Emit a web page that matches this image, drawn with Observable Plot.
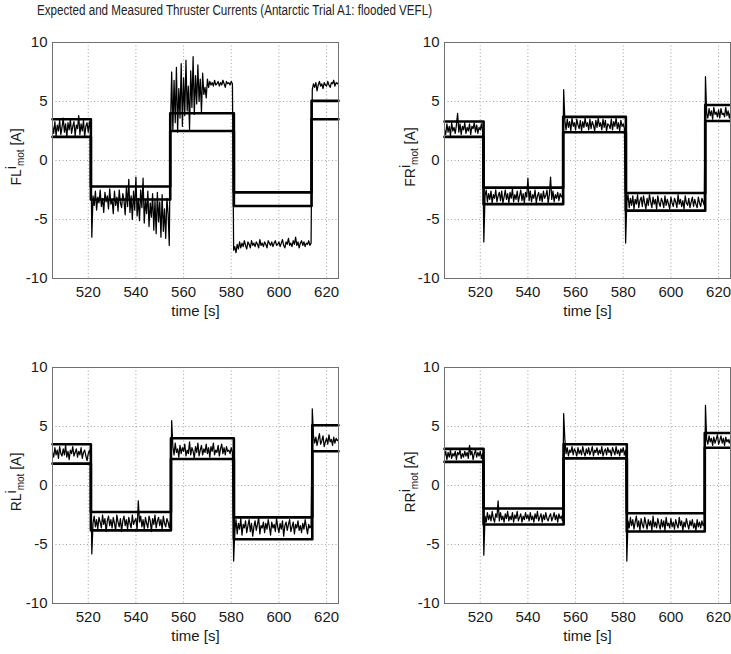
<!DOCTYPE html>
<html><head><meta charset="utf-8">
<script src="https://cdn.jsdelivr.net/npm/d3@7"></script>
<script src="https://cdn.jsdelivr.net/npm/@observablehq/plot@0.6"></script>
<style>
html,body{margin:0;padding:0;background:#fff;overflow:hidden;}
#fig{position:relative;width:731px;height:654px;font-family:"Liberation Sans",Arial,sans-serif;}
#title{position:absolute;left:37px;top:1px;font-family:"Liberation Sans",Arial,sans-serif;font-size:14px;line-height:18px;color:#222;white-space:nowrap;transform:scaleX(0.83);transform-origin:0 0;}
.panel{position:absolute;}
</style></head><body>
<div id="fig"><div id="title">Expected and Measured Thruster Currents (Antarctic Trial A1: flooded VEFL)</div></div>
<script>
// ---- data ----
const panelNames = ["FL", "FR", "RL", "RR"];
const xTicks = [520, 540, 560, 580, 600, 620];
const yTicks = [-10, -5, 0, 5, 10];
const timeLabel = "time [s]";
const sampleStart = 505;   // s, first measured sample
const sampleStep = 0.5;    // s, measured sampling interval

// expected current envelope: switching times and upper / lower bounds per segment
const flSwitch = [521.1, 554.4, 581.1, 613.7];
const flUpper = [3.5, -2.2, 4.0, -2.7, 5.05];
const flLower = [2.0, -3.3, 2.5, -3.85, 3.5];
const frSwitch = [521.4, 554.8, 581.1, 614.4];
const frUpper = [3.3, -2.3, 3.7, -2.75, 4.7];
const frLower = [2.0, -3.7, 2.4, -4.25, 3.35];
const rlSwitch = [521.1, 554.7, 581.1, 614.0];
const rlUpper = [3.5, -2.25, 4.0, -2.7, 5.1];
const rlLower = [1.85, -3.8, 2.25, -4.55, 2.9];
const rrSwitch = [521.4, 555.0, 581.5, 614.2];
const rrUpper = [3.1, -1.95, 3.5, -2.35, 4.45];
const rrLower = [2.0, -3.3, 2.3, -3.9, 3.2];

// measured motor currents [A], one sample every 0.5 s from 505 s to 625 s
const flMeasured = [
2.9, 2.3, 3.3, 2.1, 3.0, 2.5, 3.4, 2.2, 2.8, 3.6,
2.4, 3.1, 2.0, 3.2, 2.6, 3.5, 2.3, 2.9, 3.3, 2.1,
3.0, 2.7, 3.8, 2.2, 3.1, 2.5, 3.4, 2.0, 2.9, 3.2,
2.4, 3.3, 2.6, -6.5, -3.0, -3.8, -2.6, -4.2, -3.1, -3.6,
-2.5, -3.9, -3.2, -4.4, -2.7, -3.5, -3.0, -4.1, -2.4, -3.7,
-3.3, -4.5, -2.6, -3.8, -3.1, -4.3, -2.5, -3.6, -4.0, -2.8,
-3.4, -4.6, -2.3, -3.9, -1.6, -4.4, -3.0, -5.0, -2.6, -4.2,
-1.4, -4.7, -3.2, -5.1, -2.5, -4.0, -1.5, -5.3, -3.3, -4.5,
-2.6, -5.6, -3.6, -4.8, -2.8, -5.9, -3.4, -6.2, -2.7, -5.2,
-3.5, -6.5, -2.9, -6.0, -4.1, -6.6, -3.2, -4.5, -7.2, 2.8,
7.5, 2.5, 6.8, 3.2, 7.9, 2.4, 6.1, 3.6, 8.2, 2.9,
7.0, 3.8, 8.5, 4.2, 6.3, 2.6, 7.6, 4.5, 8.8, 3.9,
7.2, 4.8, 8.1, 5.0, 6.9, 4.1, 7.4, 5.6, 6.2, 5.3,
6.9, 6.2, 6.7, 6.4, 6.6, 6.3, 6.8, 6.4, 6.5, 6.7,
6.3, 6.6, 6.4, 6.8, 6.5, 6.2, 6.7, 6.5, 6.6, 6.4,
6.7, 6.5, -7.6, -7.3, -7.8, -7.1, -7.5, -6.9, -7.4, -7.0,
-7.3, -6.8, -7.2, -7.5, -6.9, -7.1, -7.4, -6.8, -7.2, -7.0,
-7.3, -6.9, -7.1, -7.4, -6.7, -7.2, -7.0, -7.3, -6.9, -7.1,
-7.4, -6.8, -7.0, -7.2, -6.9, -7.3, -7.0, -6.8, -7.2, -7.1,
-6.9, -7.3, -7.0, -6.7, -7.2, -7.4, -6.9, -7.1, -6.6, -7.2,
-7.0, -7.3, -6.8, -7.1, -6.5, -7.2, -6.9, -7.4, -7.0, -6.8,
-7.2, -6.9, -7.3, -7.0, -7.1, -6.8, -7.2, -7.0, 6.0, 6.5,
6.2, 6.6, 5.9, 6.4, 6.7, 6.3, 6.5, 6.1, 6.6, 6.4,
6.3, 6.7, 6.4, 6.2, 6.6, 6.5, 6.8, 6.3, 6.6, 6.5,
6.6];
const frMeasured = [
2.6, 2.2, 3.1, 2.4, 2.9, 2.1, 3.2, 2.5, 2.8, 2.3,
3.0, 4.0, 2.4, 3.1, 2.2, 2.9, 2.6, 3.2, 2.3, 2.8,
2.5, 3.1, 2.2, 2.9, 2.7, 3.2, 2.4, 3.0, 2.3, 2.8,
2.6, 3.1, 2.4, -6.9, -3.0, -2.5, -3.5, -2.8, -3.3, -2.6,
-3.6, -2.9, -3.2, -2.5, -3.5, -3.0, -2.7, -3.4, -2.6, -3.6,
-3.1, -2.5, -3.3, -2.8, -3.6, -2.7, -3.2, -2.4, -3.5, -2.9,
-3.3, -2.6, -3.5, -3.0, -2.5, -3.4, -2.8, -3.6, -2.7, -3.1,
-1.5, -3.4, -2.6, -3.5, -2.9, -3.2, -2.5, -3.6, -3.0, -2.7,
-3.4, -2.8, -3.5, -2.6, -3.2, -3.0, -2.5, -3.6, -2.9, -1.4,
-3.3, -2.6, -3.5, -2.9, -3.2, -2.7, -3.4, -2.8, -3.1, -2.9,
6.0, 3.4, 2.6, 3.5, 2.8, 3.3, 2.5, 3.6, 2.9, 3.2,
2.6, 3.5, 3.0, 2.7, 3.4, 2.5, 3.3, 2.8, 3.6, 2.9,
3.2, 2.6, 3.5, 2.7, 3.3, 3.0, 2.5, 3.4, 2.8, 3.6,
2.9, 3.2, 2.6, 3.5, 2.8, 3.4, 2.5, 3.1, 3.0, 2.7,
3.5, 2.6, 3.3, 2.9, 3.6, 2.7, 3.2, 2.5, 3.4, 2.9,
3.1, 2.7, -7.0, -3.5, -2.9, -4.0, -3.2, -3.8, -3.0, -4.1,
-3.3, -3.7, -2.9, -4.0, -3.4, -3.1, -3.9, -3.0, -3.6, -4.1,
-3.2, -3.8, -2.9, -3.5, -4.0, -3.1, -3.7, -3.3, -4.1, -3.0,
-3.6, -3.9, -3.2, -3.5, -4.0, -3.0, -3.8, -3.3, -3.7, -4.1,
-3.1, -3.6, -3.9, -3.2, -3.5, -4.0, -2.9, -3.7, -3.3, -3.9,
-3.4, -4.1, -3.0, -3.6, -3.8, -3.2, -4.0, -3.5, -3.1, -3.9,
-3.3, -3.7, -4.0, -3.1, -3.6, -3.9, -3.2, -3.5, -3.8, 7.1,
4.0, 3.6, 4.4, 3.8, 4.2, 3.5, 4.5, 3.9, 4.1, 3.7,
4.3, 3.6, 4.4, 3.9, 4.0, 3.7, 4.5, 3.8, 4.2, 3.6,
4.1];
const rlMeasured = [
2.8, 2.4, 3.2, 2.6, 3.0, 2.3, 3.3, 2.7, 2.5, 3.1,
2.6, 3.4, 2.4, 2.9, 2.2, 3.0, 2.7, 3.3, 2.5, 2.8,
3.1, 2.4, 2.9, 2.6, 3.2, 2.3, 2.8, 3.0, 2.5, 2.1,
2.7, 3.0, 2.4, -5.8, -3.2, -2.6, -3.5, -2.9, -3.7, -2.7,
-3.1, -3.6, -2.5, -3.3, -2.8, -3.9, -3.0, -2.6, -3.4, -2.9,
-3.6, -2.7, -3.2, -3.8, -2.5, -3.1, -3.5, -2.8, -3.9, -3.0,
-2.6, -3.4, -2.9, -3.7, -2.7, -3.2, -3.6, -2.5, -3.3, -3.0,
-2.8, -3.8, -1.3, -3.1, -2.6, -3.5, -2.9, -3.7, -2.7, -3.2,
-3.6, -2.6, -3.0, -3.9, -2.8, -3.3, -2.5, -3.6, -3.0, -2.7,
-3.4, -2.9, -3.7, -2.6, -3.2, -3.5, -2.8, -3.1, -3.6, -2.9,
5.5, 3.3, 2.6, 3.6, 2.8, 3.1, 2.4, 3.4, 2.7, 3.2,
2.9, 3.5, 2.5, 3.0, 2.7, 3.7, 2.6, 3.2, 2.9, 2.3,
3.3, 2.8, 3.6, 2.5, 3.0, 3.4, 2.6, 3.1, 2.8, 3.5,
2.7, 3.2, 2.4, 3.3, 2.9, 3.6, 2.6, 3.0, 2.8, 3.4,
2.5, 3.1, 3.5, 2.7, 3.2, 2.6, 3.3, 2.9, 3.0, 2.7,
3.2, 2.8, -6.4, -3.8, -2.9, -4.1, -3.2, -3.7, -2.8, -4.2,
-3.3, -3.6, -3.0, -4.0, -3.4, -2.9, -3.9, -3.2, -4.3, -3.5,
-3.0, -3.8, -3.3, -2.7, -4.1, -3.4, -3.6, -3.1, -4.0, -3.2,
-3.7, -2.9, -3.5, -4.2, -3.1, -3.6, -3.3, -3.9, -2.8, -3.5,
-4.0, -3.2, -3.7, -3.0, -4.3, -3.4, -3.1, -3.8, -3.3, -2.9,
-3.9, -3.5, -3.1, -4.1, -3.3, -3.6, -3.0, -3.8, -3.4, -4.0,
-3.2, -3.7, -2.9, -3.5, -4.1, -3.3, -3.6, -3.4, 6.5, 4.2,
3.6, 4.1, 3.4, 3.9, 4.4, 3.5, 3.8, 4.2, 3.3, 3.7,
4.0, 3.5, 4.3, 3.7, 3.9, 3.4, 4.1, 3.6, 4.0, 3.8,
3.9];
const rrMeasured = [
2.5, 2.9, 2.2, 2.8, 2.4, 3.0, 2.3, 2.7, 2.5, 2.9,
2.2, 2.8, 2.6, 3.0, 2.3, 2.7, 2.4, 2.9, 2.5, 2.8,
2.3, 3.4, 2.6, 2.9, 2.2, 2.7, 3.0, 2.4, 2.8, 2.5,
2.9, 2.3, 2.7, -5.9, -2.6, -3.1, -2.3, -2.9, -2.5, -3.0,
-2.2, -2.8, -3.1, -2.4, -2.7, -1.3, -3.0, -2.3, -2.9, -2.6,
-3.1, -2.4, -2.8, -2.2, -3.0, -2.6, -2.9, -2.3, -3.1, -2.5,
-2.8, -2.2, -3.0, -2.7, -2.4, -3.1, -2.6, -2.9, -2.3, -2.8,
-2.5, -3.0, -2.3, -2.9, -2.6, -3.1, -2.4, -2.8, -2.2, -3.0,
-2.7, -2.4, -3.1, -2.5, -2.9, -2.3, -2.8, -3.0, -2.6, -2.4,
-3.0, -2.7, -2.3, -2.9, -2.5, -3.1, -2.4, -2.8, -2.6, -3.0,
6.1, 3.9, 2.7, 3.2, 2.5, 3.0, 2.8, 3.3, 2.6, 3.1,
2.9, 2.5, 3.2, 2.7, 3.0, 2.6, 3.3, 2.8, 2.5, 3.1,
2.7, 3.2, 2.6, 2.9, 3.3, 2.5, 3.0, 2.8, 3.2, 2.6,
3.0, 2.7, 3.3, 2.5, 2.9, 3.1, 2.6, 3.2, 2.8, 3.0,
2.5, 3.2, 2.9, 2.6, 3.3, 2.7, 3.0, 2.5, 3.1, 2.8,
3.2, 2.6, 3.0, -6.4, -3.0, -3.6, -2.7, -3.4, -2.9, -3.7,
-3.1, -2.6, -3.5, -3.0, -3.8, -2.8, -3.3, -3.6, -2.7, -3.2,
-3.7, -2.9, -3.4, -3.0, -3.8, -2.6, -3.5, -3.1, -3.6, -2.8,
-3.3, -3.7, -2.9, -3.5, -3.0, -3.8, -2.7, -3.4, -3.2, -3.6,
-2.8, -3.5, -3.1, -3.7, -2.9, -3.3, -3.6, -2.7, -3.4, -3.0,
-3.8, -3.1, -3.5, -2.8, -3.3, -3.7, -3.0, -3.4, -2.9, -3.6,
-3.2, -3.8, -2.9, -3.5, -3.1, -3.6, -3.0, -3.4, -3.2, 6.8,
3.9, 3.5, 4.2, 3.7, 4.0, 3.4, 4.1, 3.6, 3.9, 4.3,
3.5, 3.8, 4.2, 3.6, 4.0, 3.4, 4.1, 3.7, 3.9, 3.6,
4.0];

// ---- drawing ----
const xDomain = [505, 625];
const fontStack = "Liberation Sans, Arial, Helvetica, sans-serif";
const plainNumber = d => String(d);

function stepPoints(switches, levels) {
  const pts = [xDomain[0], ...switches].map((t, i) => ({t, v: levels[i]}));
  pts.push({t: xDomain[1], v: levels[levels.length - 1]});
  return pts;
}

function makePanel(name, measured, switches, upper, lower, left, top, width, marginRight, labelX) {
  if (measured.length !== 241) throw new Error(name + " length " + measured.length);
  const meas = measured.map((v, i) => ({t: sampleStart + i * sampleStep, v}));
  const svg = Plot.plot({
    width, height: 300,
    marginLeft: 52, marginRight, marginTop: 12, marginBottom: 52,
    style: {fontFamily: fontStack, fontSize: "15px", color: "#1a1a1a", background: "#fff", overflow: "visible"},
    x: {domain: xDomain, label: null},
    y: {domain: [-10, 10], label: null},
    marks: [
      Plot.gridX(xTicks, {stroke: "#8a8a8a", strokeOpacity: 1, strokeWidth: 0.8, strokeDasharray: "1,2.5"}),
      Plot.gridY(yTicks, {stroke: "#8a8a8a", strokeOpacity: 1, strokeWidth: 0.8, strokeDasharray: "1,2.5"}),
      Plot.line(meas, {x: "t", y: "v", stroke: "#000", strokeWidth: 1.25}),
      Plot.line(stepPoints(switches, upper), {x: "t", y: "v", curve: "step-after", stroke: "#000", strokeWidth: 2.6}),
      Plot.line(stepPoints(switches, lower), {x: "t", y: "v", curve: "step-after", stroke: "#000", strokeWidth: 2.6}),
      Plot.frame({stroke: "#707070", strokeWidth: 1}),
      Plot.axisX(xTicks, {tickSize: 0, tickPadding: 8, label: null, tickFormat: plainNumber}),
      Plot.axisY(yTicks, {tickSize: 0, tickPadding: 5, label: null, tickFormat: plainNumber}),
      Plot.text([timeLabel], {frameAnchor: "bottom", dy: 37, fontSize: 15})
    ]
  });
  const lab = d3.select(svg).append("text")
    .attr("transform", `translate(${labelX},127) rotate(-90)`)
    .attr("text-anchor", "middle")
    .attr("font-size", 14)
    .attr("fill", "#1a1a1a")
    .attr("font-family", fontStack);
  lab.append("tspan").text(name);
  lab.append("tspan").attr("dy", -5).text("i");
  lab.append("tspan").attr("dy", 8).attr("font-size", 10).text("mot");
  lab.append("tspan").attr("dy", -3).text(" [A]");
  svg.classList.add("panel");
  svg.style.left = left + "px";
  svg.style.top = top + "px";
  document.getElementById("fig").appendChild(svg);
}

makePanel(panelNames[0], flMeasured, flSwitch, flUpper, flLower, 0, 30, 365, 27, 21);
makePanel(panelNames[1], frMeasured, frSwitch, frUpper, frLower, 392, 30, 339, 1, 23);
makePanel(panelNames[2], rlMeasured, rlSwitch, rlUpper, rlLower, 0, 355, 365, 27, 21);
makePanel(panelNames[3], rrMeasured, rrSwitch, rrUpper, rrLower, 392, 355, 339, 1, 23);
</script>
</body></html>
